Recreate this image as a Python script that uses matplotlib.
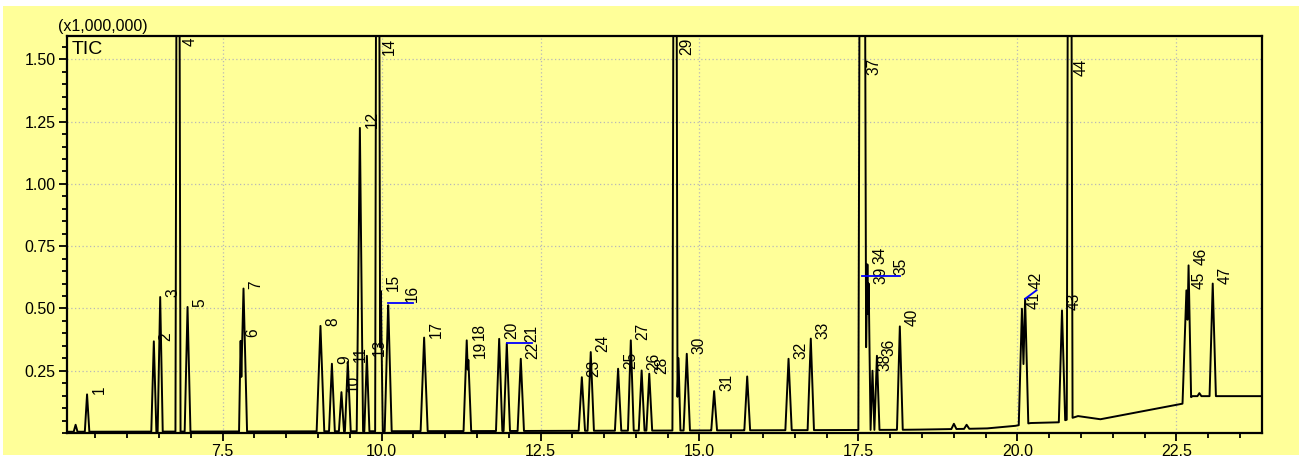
import matplotlib
matplotlib.use("Agg")
import matplotlib.pyplot as plt
from matplotlib.ticker import MultipleLocator, FormatStrFormatter, FixedLocator
from matplotlib.patches import Rectangle
import numpy as np

# peak table (retention time in min, height in x1,000,000)
peak_no = list(range(1, 48))
peak_rt = [5.37, 6.42, 6.52, 6.80, 6.95, 7.785, 7.83, 9.04, 9.22, 9.37,
           9.47, 9.66, 9.77, 9.94, 9.99, 10.105, 10.67, 11.34, 11.365, 11.85,
           11.97, 12.19, 13.15, 13.29, 13.72, 14.09, 13.92, 14.21, 14.615, 14.80,
           15.23, 16.40, 16.75, 17.64, 17.55, 17.79, 17.56, 17.72, 17.66, 18.15,
           20.07, 20.12, 20.70, 20.82, 22.655, 22.69, 23.07]
peak_h = [0.155, 0.368, 0.546, 4.5, 0.506, 0.385, 0.58, 0.43, 0.278, 0.164,
          0.285, 1.225, 0.31, 5.0, 0.57, 0.522, 0.383, 0.372, 0.30, 0.378,
          0.36, 0.298, 0.224, 0.325, 0.258, 0.251, 0.372, 0.238, 5.0, 0.318,
          0.168, 0.298, 0.379, 0.677, 0.63, 0.31, 6.0, 0.25, 0.60, 0.428,
          0.499, 0.539, 0.492, 5.0, 0.58, 0.673, 0.60]
# half base width (min)
peak_w = [0.035, 0.04, 0.04, 0.04, 0.045, 0.025, 0.055, 0.06, 0.045, 0.04,
          0.045, 0.05, 0.04, 0.04, 0.03, 0.055, 0.055, 0.05, 0.045, 0.05,
          0.05, 0.05, 0.05, 0.05, 0.05, 0.045, 0.045, 0.045, 0.04, 0.05,
          0.045, 0.05, 0.05, 0.04, 0.03, 0.04, 0.062, 0.03, 0.03, 0.045,
          0.05, 0.05, 0.05, 0.045, 0.06, 0.04, 0.05]

# small peaks without a number
extra_rt = [5.19, 14.67, 15.75, 19.00, 19.20, 22.86]
extra_h = [0.033, 0.30, 0.227, 0.037, 0.033, 0.16]
extra_w = [0.03, 0.03, 0.045, 0.04, 0.04, 0.03]

# baseline drift
base_rt = [5.05, 12.0, 17.4, 18.3, 19.5, 19.95, 20.2, 20.65, 20.95, 21.3, 22.6, 22.75, 23.84]
base_val = [0.005, 0.008, 0.012, 0.013, 0.018, 0.028, 0.040, 0.043, 0.068, 0.055, 0.118, 0.148, 0.148]

yellow = "#ffff99"
ytop = 1.594
font = "Liberation Sans"
lab_size = 11.2

x = np.arange(5.05, 23.84, 0.002)
base = np.interp(x, base_rt, base_val)
top = np.zeros_like(x)
for rt, h, w in zip(peak_rt + extra_rt, peak_h + extra_h, peak_w + extra_w):
    b = np.interp(rt, base_rt, base_val)
    tri = (h - b) * np.clip(1 - np.abs(x - rt) / w, 0, None)
    top = np.maximum(top, tri)
y = base + top

fig = plt.figure(figsize=(13.02, 4.57), dpi=100)
fig.patch.set_facecolor("white")
fig.patches.append(Rectangle((3 / 1302, 2 / 457), 1296 / 1302, 449 / 457,
                             transform=fig.transFigure, facecolor=yellow,
                             edgecolor="none", zorder=-10))

ax = fig.add_axes([66.7 / 1302, 24 / 457, 1195 / 1302, 397 / 457])
ax.set_facecolor(yellow)
ax.plot(x, y, color="black", lw=1.4, zorder=3)

ax.set_xlim(5.05, 23.84)
ax.set_ylim(0, ytop)

ax.xaxis.set_major_locator(FixedLocator([7.5, 10.0, 12.5, 15.0, 17.5, 20.0, 22.5]))
ax.xaxis.set_major_formatter(FormatStrFormatter("%.1f"))
ax.xaxis.set_minor_locator(MultipleLocator(0.5))
ax.yaxis.set_major_locator(FixedLocator([0.25, 0.5, 0.75, 1.0, 1.25, 1.5]))
ax.yaxis.set_major_formatter(FormatStrFormatter("%.2f"))
ax.yaxis.set_minor_locator(MultipleLocator(0.05))

ax.tick_params(which="major", direction="out", length=6, width=1.3, pad=2,
               labelsize=11.5, labelfontfamily=font)
ax.tick_params(which="minor", direction="out", length=3.5, width=1.3)

for s in ax.spines.values():
    s.set_linewidth(1.6)
    s.set_color("black")

ax.grid(True, which="major", color="#b8b8b8", linestyle=(0, (1, 2)), lw=0.9)
ax.set_axisbelow(True)

# leader lines for crowded labels
leaders = {16: (10.49, 0.522), 21: (12.36, 0.36), 35: (18.16, 0.63), 42: (20.30, 0.573)}
drop = {37: 1.51, 44: 1.51}

for no, rt, h in zip(peak_no, peak_rt, peak_h):
    if no in leaders:
        lx, ly = leaders[no]
        ax.plot([rt, lx], [min(h, ytop), ly], color="#0000ff", lw=1.3, zorder=4)
        ax.annotate(str(no), (lx, ly), xytext=(0, 1), textcoords="offset points",
                    rotation=90, ha="center", va="bottom", fontsize=lab_size, family=font)
    elif h > ytop:
        ly = drop.get(no, ytop)
        ax.annotate(str(no), (rt, ly), xytext=(3, -1), textcoords="offset points",
                    rotation=90, ha="left", va="top", fontsize=lab_size, family=font)
    else:
        ax.annotate(str(no), (rt, h), xytext=(3.5, 0), textcoords="offset points",
                    rotation=90, ha="left", va="bottom", fontsize=lab_size, family=font)

ax.text(0.004, 0.988, "TIC", transform=ax.transAxes, ha="left", va="top",
        fontsize=14, family=font)
fig.text(58 / 1302, 1 - 27 / 457, "(x1,000,000)", ha="left", va="center",
         fontsize=11.5, family=font)

fig.savefig("out.png", dpi=100, facecolor=fig.get_facecolor())
